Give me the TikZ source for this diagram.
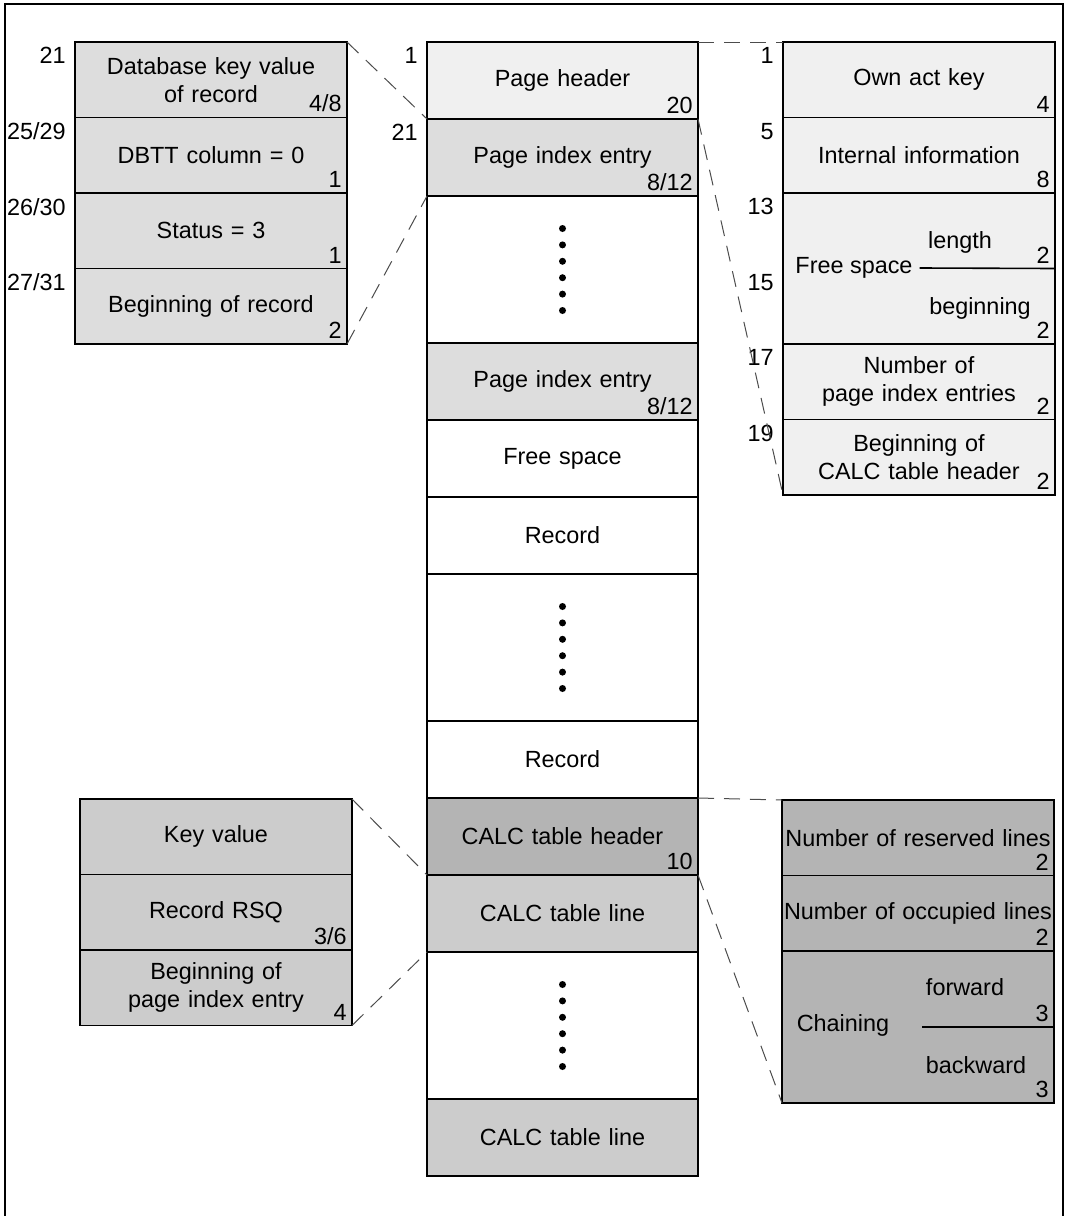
\documentclass[tikz,border=0pt]{standalone}
\usepackage{fontspec}
\setmainfont{Liberation Sans}
\usetikzlibrary{positioning}
\definecolor{HeadGray}{HTML}{F0F0F0}
\definecolor{EntryGray}{HTML}{DDDDDD}
\definecolor{LineGray}{HTML}{CCCCCC}
\definecolor{CalcGray}{HTML}{B4B4B4}

\tikzset{
  cell/.style={draw, line width=0.8pt, outer sep=0pt, inner ysep=1pt, inner xsep=1pt, align=center},
  colcell/.style={cell, text width=133.5pt, minimum height=38.5pt},
  dotcell/.style={colcell, minimum height=73.5pt},
  sidecell/.style={cell, text width=134pt, minimum height=37.75pt},
  num/.style={anchor=south east, inner xsep=2.5pt, inner ysep=2.5pt},
  idx/.style={anchor=north east, inner xsep=4.5pt, inner ysep=2.5pt},
  link/.style={draw=black!70, line width=0.5pt, dash pattern=on 8pt off 5pt},
}
% six dots down the middle of a node
\newcommand{\dotcolumn}[1]{%
  \foreach \k in {0,...,5}
    \fill ([yshift={(2.5-\k)*8.2pt}]#1.center) circle (1.75pt);}

\begin{document}
\begin{tikzpicture}[x=0.5pt,y=-0.5pt,font=\fontsize{11.7}{14}\selectfont]
  \useasboundingbox (0,0) rectangle (1068,1216);
  \draw[line width=0.6pt] (5,1216) -- (5,4) -- (1063,4) -- (1063,1216);

  % page layout
  \node[colcell, fill=HeadGray, anchor=north west] (ph) at (427,42) {Page header};
  \node[colcell, fill=EntryGray, below=0pt of ph] (pie1) {Page index entry};
  \node[dotcell, fill=white, below=0pt of pie1] (dots1) {};
  \node[colcell, fill=EntryGray, below=0pt of dots1] (pie2) {Page index entry};
  \node[colcell, below=0pt of pie2] (fs) {Free space};
  \node[colcell, below=0pt of fs] (rec1) {Record};
  \node[dotcell, below=0pt of rec1] (dots2) {};
  \node[colcell, below=0pt of dots2] (rec2) {Record};
  \node[colcell, fill=CalcGray, below=0pt of rec2] (cth) {CALC table header};
  \node[colcell, fill=LineGray, below=0pt of cth] (ctl1) {CALC table line};
  \node[dotcell, below=0pt of ctl1] (dots3) {};
  \node[colcell, fill=LineGray, below=0pt of dots3] (ctl2) {CALC table line};
  \dotcolumn{dots1}
  \dotcolumn{dots2}
  \dotcolumn{dots3}
  \node[idx] (ph-i) at (ph.north west) {1};
  \node[idx] (pie1-i) at (pie1.north west) {21};
  \node[num] (ph-n) at (ph.south east) {20};
  \node[num] (pie1-n) at (pie1.south east) {8/12};
  \node[num] (pie2-n) at (pie2.south east) {8/12};
  \node[num] (cth-n) at (cth.south east) {10};

  % page index entry
  \node[sidecell, fill=EntryGray, anchor=north west] (dbk) at (75,42) {Database key value\\of record};
  \node[sidecell, fill=EntryGray, below=0pt of dbk] (dbtt) {DBTT column = 0};
  \node[sidecell, fill=EntryGray, below=0pt of dbtt] (sts) {Status = 3};
  \node[sidecell, fill=EntryGray, below=0pt of sts] (bor) {Beginning of record};
  \node[idx] (dbk-i) at (dbk.north west) {21};
  \node[idx] (dbtt-i) at (dbtt.north west) {25/29};
  \node[idx] (sts-i) at (sts.north west) {26/30};
  \node[idx] (bor-i) at (bor.north west) {27/31};
  \node[num] (dbk-n) at (dbk.south east) {4/8};
  \node[num] (dbtt-n) at (dbtt.south east) {1};
  \node[num] (sts-n) at (sts.south east) {1};
  \node[num] (bor-n) at (bor.south east) {2};

  % page header
  \node[sidecell, fill=HeadGray, anchor=north west] (oak) at (783,42) {Own act key};
  \node[sidecell, fill=HeadGray, below=0pt of oak] (iinf) {Internal information};
  \node[sidecell, fill=HeadGray, minimum height=75.5pt, below=0pt of iinf] (fsp) {};
  \node[sidecell, fill=HeadGray, below=0pt of fsp] (npie) {Number of\\page index entries};
  \node[sidecell, fill=HeadGray, below=0pt of npie] (bct) {Beginning of\\CALC table header};
  \node (fslbl) at (854,268) {Free space};
  \node (flen) at (960,242) {length};
  \node (fbeg) at (980,308) {beginning};
  \draw[line width=0.8pt] (fslbl.east) -- (fsp.east);
  \node[idx] (oak-i) at (oak.north west) {1};
  \node[idx] (iinf-i) at (iinf.north west) {5};
  \node[idx] (fsp-i) at (fsp.north west) {13};
  \node[idx] (fsp-j) at (fsp.west) {15};
  \node[idx] (npie-i) at (npie.north west) {17};
  \node[idx] (bct-i) at (bct.north west) {19};
  \node[num] (oak-n) at (oak.south east) {4};
  \node[num] (iinf-n) at (iinf.south east) {8};
  \node[num] (flen-n) at (fsp.east) {2};
  \node[num] (fbeg-n) at (fsp.south east) {2};
  \node[num] (npie-n) at (npie.south east) {2};
  \node[num] (bct-n) at (bct.south east) {2};

  % CALC table line
  \node[sidecell, fill=LineGray, anchor=north west] (kv) at (80,799) {Key value};
  \node[sidecell, fill=LineGray, below=0pt of kv] (rsq) {Record RSQ};
  \node[sidecell, fill=LineGray, below=0pt of rsq] (bpie) {Beginning of\\page index entry};
  \node[num] (rsq-n) at (rsq.south east) {3/6};
  \node[num] (bpie-n) at (bpie.south east) {4};

  % CALC table header
  \node[sidecell, fill=CalcGray, anchor=north west] (nrl) at (782,800) {Number of reserved lines};
  \node[sidecell, fill=CalcGray, below=0pt of nrl] (nol) {Number of occupied lines};
  \node[sidecell, fill=CalcGray, minimum height=76pt, below=0pt of nol] (chn) {};
  \node (chlbl) at (843,1025) {Chaining};
  \node (cfwd) at (965,987) {forward};
  \node (cbwd) at (976,1065) {backward};
  \coordinate (chsplit) at (922,1027);
  \draw[line width=0.8pt] (chsplit) -- (chn.east);
  \node[num] (nrl-n) at (nrl.south east) {2};
  \node[num] (nol-n) at (nol.south east) {2};
  \node[num] (cfwd-n) at (chn.east) {3};
  \node[num] (cbwd-n) at (chn.south east) {3};

  % zoom lines
  \draw[link] (dbk.north east) -- (pie1.north west);
  \draw[link] (bor.south east) -- (pie1.south west);
  \draw[link] (ph.north east) -- (oak.north west);
  \draw[link] (ph.south east) -- (bct.south west);
  \draw[link] (kv.north east) -- (ctl1.north west);
  \draw[link] (bpie.south east) -- (ctl1.south west);
  \draw[link] (cth.north east) -- (nrl.north west);
  \draw[link] (cth.south east) -- (chn.south west);
\end{tikzpicture}
\end{document}
